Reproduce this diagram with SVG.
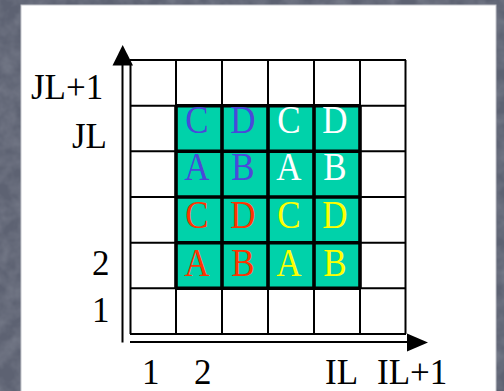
<svg xmlns="http://www.w3.org/2000/svg" width="504" height="391" viewBox="0 0 504 391">
<style>
.lbl{font-family:"Liberation Serif","Times New Roman",serif;font-size:35px;fill:#000}
.cl{font-family:"Liberation Serif","Times New Roman",serif;font-size:35px;text-anchor:middle}
.thin{stroke:#000;stroke-width:2;fill:none}
.thick{stroke:#000;stroke-width:3.6;fill:none}
.blue{fill:#4A48DA}.red{fill:#FF3300}.yel{fill:#FFFF00}.wht{fill:#FFFFFF}
</style>
<defs>
<filter id="tex" x="0" y="0" width="100%" height="100%">
<feTurbulence type="fractalNoise" baseFrequency="0.06" numOctaves="3" seed="4"/>
<feColorMatrix type="matrix" values="0 0 0 0 0.36  0 0 0 0 0.38  0 0 0 0 0.44  0 0 0 1.2 -0.35"/>
</filter>
</defs>
<rect x="0" y="0" width="504" height="391" fill="#5d6272"/>
<rect x="0" y="0" width="504" height="391" filter="url(#tex)" opacity="0.5"/>
<rect x="21" y="5" width="475" height="390" fill="#ffffff" stroke="#c4c5cc" stroke-width="1"/>

<g id="teal-block">
<rect x="176" y="105.7" width="184" height="182.6" fill="#00D2AA"/>
</g>

<g id="grid">
<path class="thin" d="M130,60H406M130,105.7H406M130,151.3H406M130,197H406M130,242.7H406M130,288.3H406M130,334H406"/>
<path class="thin" d="M130.5,64V334M176,60V334M222,60V334M268,60V334M314,60V334M360,60V334M405.5,60V334"/>
<path class="thick" d="M176,105.7H360M176,151.3H360M176,197H360M176,242.7H360M176,288.3H360"/>
<path class="thick" d="M176,105.7V288.3M222,105.7V288.3M268,105.7V288.3M314,105.7V288.3M360,105.7V288.3"/>
</g>

<g id="row-JL" transform="translate(0,133) scale(1,1.12)">
<g id="cell-c2-jl"><text class="cl blue" x="197" y="0">C</text></g>
<g id="cell-c3-jl"><text class="cl blue" x="243" y="0">D</text></g>
<g id="cell-c4-jl"><text class="cl wht" x="289" y="0">C</text></g>
<g id="cell-c5-jl"><text class="cl wht" x="335" y="0">D</text></g>
</g>
<g id="row-3" transform="translate(0,180) scale(1,1.12)">
<g id="cell-c2-r3"><text class="cl blue" x="197" y="0">A</text></g>
<g id="cell-c3-r3"><text class="cl blue" x="243" y="0">B</text></g>
<g id="cell-c4-r3"><text class="cl wht" x="289" y="0">A</text></g>
<g id="cell-c5-r3"><text class="cl wht" x="335" y="0">B</text></g>
</g>
<g id="row-2b" transform="translate(0,227.5) scale(1,1.12)">
<g id="cell-c2-r2b"><text class="cl red" x="197" y="0">C</text></g>
<g id="cell-c3-r2b"><text class="cl red" x="243" y="0">D</text></g>
<g id="cell-c4-r2b"><text class="cl yel" x="289" y="0">C</text></g>
<g id="cell-c5-r2b"><text class="cl yel" x="335" y="0">D</text></g>
</g>
<g id="row-2" transform="translate(0,275.5) scale(1,1.12)">
<g id="cell-c2-r2"><text class="cl red" x="197" y="0">A</text></g>
<g id="cell-c3-r2"><text class="cl red" x="243" y="0">B</text></g>
<g id="cell-c4-r2"><text class="cl yel" x="289" y="0">A</text></g>
<g id="cell-c5-r2"><text class="cl yel" x="335" y="0">B</text></g>
</g>

<g id="connectors">
<path class="thin" d="M122.5,64V342.5"/>
<polygon points="112.5,65.5 122.7,45 133,65.5" fill="#000"/>
<path class="thin" d="M130,342H408"/>
<polygon points="407,333.5 428,342.5 407,351.5" fill="#000"/>
</g>

<g id="y-labels">
<text class="lbl" x="31" y="99">JL+1</text>
<text class="lbl" x="72" y="148">JL</text>
<text class="lbl" x="92" y="275">2</text>
<text class="lbl" x="92" y="322">1</text>
</g>
<g id="x-labels">
<text class="lbl" x="142" y="384">1</text>
<text class="lbl" x="194" y="384">2</text>
<text class="lbl" x="325" y="384">IL</text>
<text class="lbl" x="377" y="384">IL+1</text>
</g>
</svg>
